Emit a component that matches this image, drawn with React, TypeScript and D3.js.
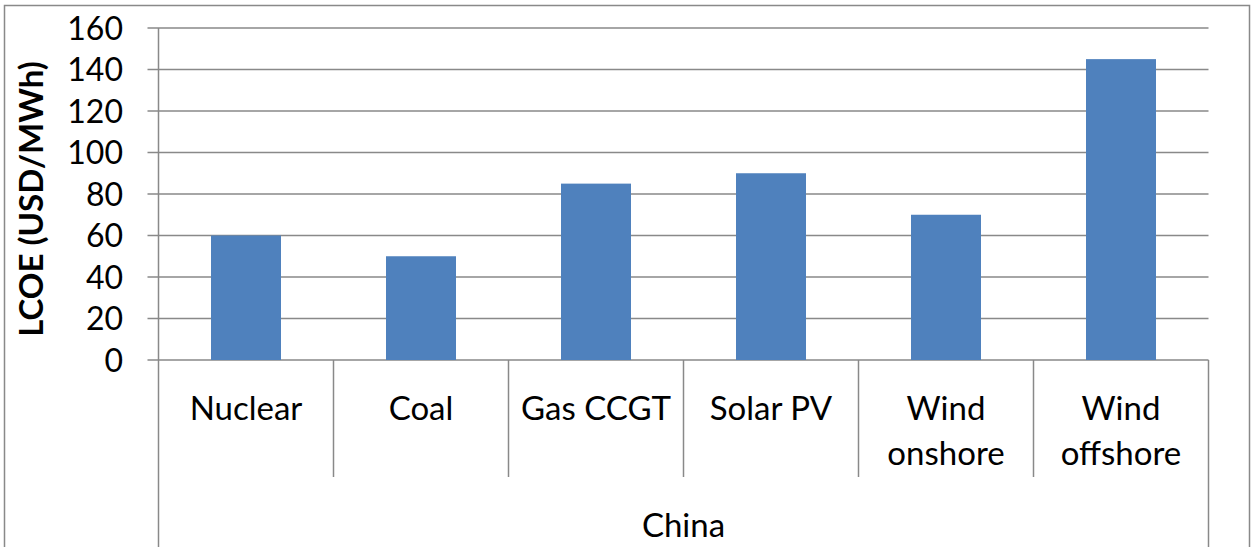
import React, { useEffect, useRef } from 'react';
import * as d3 from 'd3';

// chart data
const categories = ['Nuclear', 'Coal', 'Gas CCGT', 'Solar PV', 'Wind onshore', 'Wind offshore'];
const categoryLines = [['Nuclear'], ['Coal'], ['Gas CCGT'], ['Solar PV'], ['Wind', 'onshore'], ['Wind', 'offshore']];
const lcoe = [60, 50, 85, 90, 70, 145];
const yTicks = [0, 20, 40, 60, 80, 100, 120, 140, 160];
const groupLabel = 'China';
const yTitle = 'LCOE (USD/MWh)';

const W = 1251;
const H = 547;

const App = () => {
  const svgRef = useRef<SVGSVGElement>(null);

  useEffect(() => {
    const svg = d3.select(svgRef.current);
    svg.selectAll('*').remove();

    const left = 158.5;
    const right = 1208.5;
    const top = 28;
    const bottom = 360;
    const font = 'Lato, "Open Sans", sans-serif';
    const gridColor = '#898989';

    // outer frame
    svg.append('rect')
      .attr('x', 4.5).attr('y', 5.5)
      .attr('width', 1245).attr('height', H + 20)
      .attr('fill', 'white')
      .attr('stroke', gridColor)
      .attr('stroke-width', 1.5);

    const x = d3.scaleBand<string>()
      .domain(categories)
      .range([left, right])
      .paddingInner(0)
      .paddingOuter(0);

    const y = d3.scaleLinear()
      .domain([0, 160])
      .range([bottom, top]);

    // gridlines + ticks
    svg.append('g')
      .selectAll('line')
      .data(yTicks)
      .enter().append('line')
      .attr('x1', left - 11)
      .attr('x2', right)
      .attr('y1', d => y(d))
      .attr('y2', d => y(d))
      .attr('stroke', gridColor)
      .attr('stroke-width', 1.5);

    // y axis line
    svg.append('line')
      .attr('x1', left).attr('x2', left)
      .attr('y1', top).attr('y2', bottom)
      .attr('stroke', gridColor)
      .attr('stroke-width', 1.5);

    // tick labels
    svg.append('g')
      .selectAll('text')
      .data(yTicks)
      .enter().append('text')
      .attr('x', 123)
      .attr('y', d => y(d))
      .attr('dy', '0.36em')
      .attr('text-anchor', 'end')
      .style('font-family', font)
      .style('font-size', '32px')
      .attr('fill', '#000')
      .text(d => d);

    // bars
    const barW = x.bandwidth() * 0.4;
    svg.append('g')
      .selectAll('rect')
      .data(lcoe)
      .enter().append('rect')
      .attr('x', (d, i) => (x(categories[i]) as number) + (x.bandwidth() - barW) / 2)
      .attr('y', d => y(d))
      .attr('width', barW)
      .attr('height', d => y(0) - y(d))
      .attr('fill', '#4F81BD');

    // category dividers
    const edges = categories.map(c => x(c) as number).concat([right]);
    svg.append('g')
      .selectAll('line')
      .data(edges)
      .enter().append('line')
      .attr('x1', d => d)
      .attr('x2', d => d)
      .attr('y1', bottom)
      .attr('y2', (d, i) => (i === 0 || i === edges.length - 1 ? H + 5 : 477))
      .attr('stroke', gridColor)
      .attr('stroke-width', 1.5);

    // category labels
    const labels = svg.append('g')
      .selectAll('text')
      .data(categoryLines)
      .enter().append('text')
      .attr('x', (d, i) => (x(categories[i]) as number) + x.bandwidth() / 2)
      .attr('y', 420)
      .attr('text-anchor', 'middle')
      .style('font-family', font)
      .style('font-size', '33px')
      .attr('fill', '#000');

    labels.selectAll('tspan')
      .data(d => d)
      .enter().append('tspan')
      .attr('x', function () { return (this.parentNode as SVGTextElement).getAttribute('x'); })
      .attr('dy', (d, i) => (i === 0 ? 0 : 45))
      .text(d => d);

    // group label
    svg.append('text')
      .attr('x', (left + right) / 2)
      .attr('y', 537)
      .attr('text-anchor', 'middle')
      .style('font-family', font)
      .style('font-size', '33px')
      .attr('fill', '#000')
      .text(groupLabel);

    // y axis title
    svg.append('text')
      .attr('transform', `translate(43, 199) rotate(-90)`)
      .attr('text-anchor', 'middle')
      .style('font-family', font)
      .style('font-size', '33px')
      .style('font-weight', 'bold')
      .attr('fill', '#000')
      .text(yTitle);
  }, []);

  return (
    <div style={{ position: 'absolute', left: 0, top: 0 }}>
      <svg ref={svgRef} width={W} height={H} style={{ display: 'block' }}></svg>
    </div>
  );
};

export default App;
